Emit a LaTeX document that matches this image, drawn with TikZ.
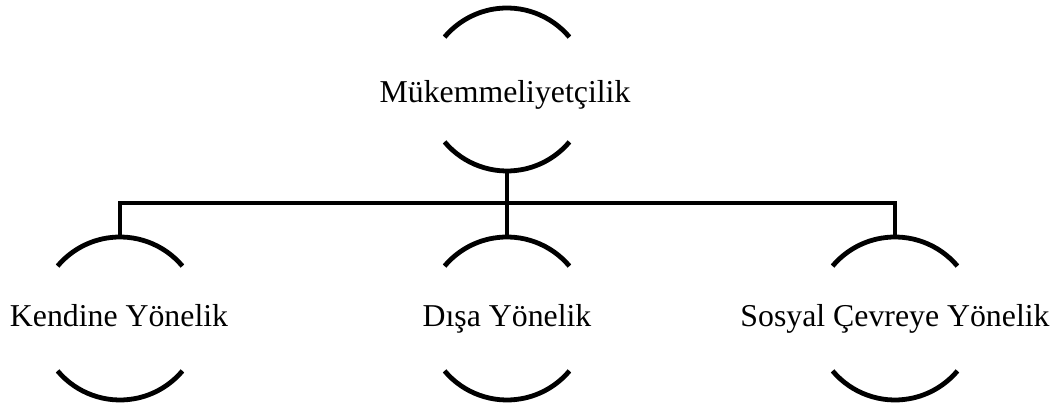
\documentclass[tikz,border=0pt]{standalone}
\usepackage{fontspec}
\setmainfont{Liberation Serif}
\begin{document}
\begin{tikzpicture}[x=1pt,y=1pt,
  ring/.style={circle,draw=none,minimum size=163pt,inner sep=0pt,outer sep=0pt},
  label/.style={anchor=base,inner sep=0pt,font=\fontsize{31.8}{36}\selectfont},
  stroke/.style={line width=4.8pt,black},
  joint/.style={stroke,line join=miter,line cap=butt}]
\useasboundingbox (0,0) rectangle (1058,403);

% invisible rings that carry the open arcs
\node[ring] (top) at (507,313.5) {};
\node[ring] (left) at (120,84.5) {};
\node[ring] (mid) at (507,84.5) {};
\node[ring] (right) at (895,84.5) {};

% texts
\node[label] (toptext) at (505,300) {Mükemmeliyetçilik};
\node[label] (lefttext) at (119,76) {Kendine Yönelik};
\node[label] (midtext) at (507,76) {Dışa Yönelik};
\node[label] (righttext) at (895,76) {Sosyal Çevreye Yönelik};

% upper and lower arcs of each ring
\foreach \n in {top,left,mid,right}{
  \draw[stroke] (\n.40) arc (40:140:81.5pt);
  \draw[stroke] (\n.220) arc (220:320:81.5pt);
}

% tree connectors
\coordinate (bar) at (507,200);
\draw[joint] (left.north) |- (bar) -| (right.north);
\draw[joint] (top.south) -- (mid.north);
\end{tikzpicture}
\end{document}
